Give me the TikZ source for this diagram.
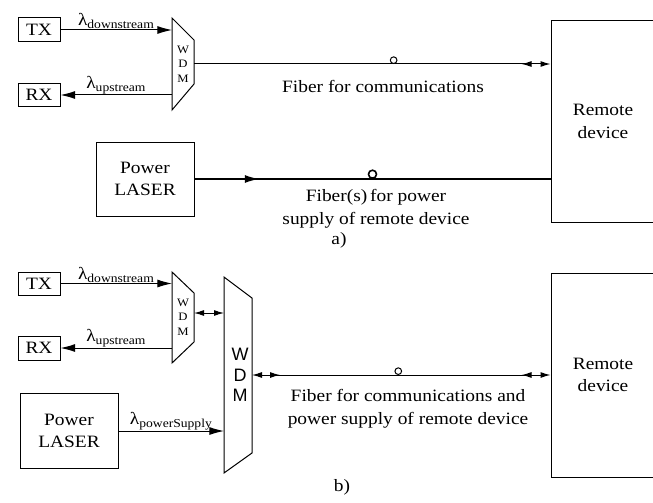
\documentclass[tikz,border=0pt]{standalone}
\usepackage{fontspec}
\setmainfont{Liberation Serif}[FakeStretch=1.12]
\setsansfont{Liberation Sans}
\usetikzlibrary{arrows.meta,decorations.markings,positioning}

\tikzset{
  bigtip/.tip={Latex[length=11pt,width=6pt]},
  smalltip/.tip={Latex[length=7.5pt,width=4.5pt]},
  txt/.style={font=\fontsize{13}{17}\selectfont, align=center, inner sep=1pt},
  lbl/.style={font=\fontsize{13}{15}\selectfont, inner sep=0.5pt, above},
  blk/.style={draw, txt},
  smallwdm/.style={font=\fontsize{8.5}{11}\selectfont, align=center, inner sep=0pt},
  bigwdm/.style={font=\sffamily\fontsize{13.5}{15.5}\selectfont, align=center, inner sep=0pt},
  ring/.style={draw, circle, fill=white, inner sep=0pt, minimum size=5pt, anchor=south},
  sig/.style={-bigtip},
  endboth/.style={-smalltip, postaction={decorate},
    decoration={markings, mark=at position -21.75pt with {\arrowreversed{smalltip}}}},
  twoboth/.style={smalltip-smalltip, postaction={decorate},
    decoration={markings,
      mark=at position 21pt with {\arrow{smalltip}},
      mark=at position -21.75pt with {\arrowreversed{smalltip}}}},
  powerline/.style={line width=1.5pt, postaction={decorate},
    decoration={markings, mark=at position 48.75pt with {\arrow{bigtip}}}}
}

\begin{document}
\begin{tikzpicture}[x=0.75pt, y=-0.75pt, line width=0.75pt]
\useasboundingbox (0,0) rectangle (653,503);

% ---- a) separate fibers
\node[blk, minimum width=31.5pt, minimum height=18pt] (tx1) at (39,30) {TX};
\node[blk, minimum width=31.5pt, minimum height=17.25pt] (rx1) at (39,95) {RX};
\node[blk, minimum width=73.5pt, minimum height=55.5pt] (laser1) at (145,179) {Power\\LASER};
\node[blk, minimum width=78pt, minimum height=150.75pt] (remote1) at (603,121.5) {Remote\\device};

\draw (172,18) coordinate (wdm1-tl) -- (194,40) coordinate (wdm1-tr)
  -- (194,84) coordinate (wdm1-br) -- (172,110) coordinate (wdm1-bl) -- cycle;
\node[smallwdm] (wdm1) at (183,64) {W\\D\\M};
\coordinate (wdm1-out) at (194,64);

\draw[sig] (tx1.east) -- (tx1.east -| wdm1-tl)
  node[lbl, midway] {λ\textsubscript{downstream}};
\draw[sig] (rx1.east -| wdm1-tl) -- (rx1.east)
  node[lbl, midway] {λ\textsubscript{upstream}};

\draw[endboth] (wdm1-out) -- (wdm1-out -| remote1.west)
  node[ring, pos=0.56] {};
\draw[powerline] (laser1.east) -- (laser1.east -| remote1.west)
  node[ring, pos=0.5, minimum size=6pt, line width=1.2pt] {};

\node[txt] (fibtxt1) at (383,86) {Fiber for communications};
\node[txt] (powtxt1) at (376,209) {Fiber(s)\,for power\\supply of remote device};
\node[txt] (capa) at (339,240) {a)};

% ---- b) one fiber
\node[blk, minimum width=31.5pt, minimum height=17.25pt] (tx2) at (39,283.5) {TX};
\node[blk, minimum width=31.5pt, minimum height=18pt] (rx2) at (39,348) {RX};
\node[blk, minimum width=73.5pt, minimum height=56.25pt] (laser2) at (69,431) {Power\\LASER};
\node[blk, minimum width=78pt, minimum height=153pt] (remote2) at (603,375) {Remote\\device};

\draw (172,272) coordinate (wdm2-tl) -- (194,293) coordinate (wdm2-tr)
  -- (194,342) coordinate (wdm2-br) -- (172,363) coordinate (wdm2-bl) -- cycle;
\node[smallwdm] (wdm2) at (183,317) {W\\D\\M};
\coordinate (wdm2-out) at (194,313);

\draw (224,277) coordinate (wdm3-tl) -- (252,298) coordinate (wdm3-tr)
  -- (252,453) coordinate (wdm3-br) -- (224,473) coordinate (wdm3-bl) -- cycle;
\node[bigwdm] (wdm3) at (240,375) {W\\D\\M};
\coordinate (wdm3-out) at (252,375);

\draw[sig] (tx2.east) -- (tx2.east -| wdm2-tl)
  node[lbl, midway] {λ\textsubscript{downstream}};
\draw[sig] (rx2.east -| wdm2-tl) -- (rx2.east)
  node[lbl, midway] {λ\textsubscript{upstream}};
\draw[sig] (laser2.east) -- (laser2.east -| wdm3-tl)
  node[lbl, midway] {λ\textsubscript{powerSupply}};

\draw[smalltip-smalltip] (wdm2-out) -- (wdm2-out -| wdm3-tl);
\draw[twoboth] (wdm3-out) -- (wdm3-out -| remote2.west)
  node[ring, pos=0.49] {};

\node[txt] (fibtxt2) at (408,409) {Fiber for communications and\\power supply of remote device};
\node[txt] (capb) at (342,487) {b)};

\end{tikzpicture}
\end{document}
